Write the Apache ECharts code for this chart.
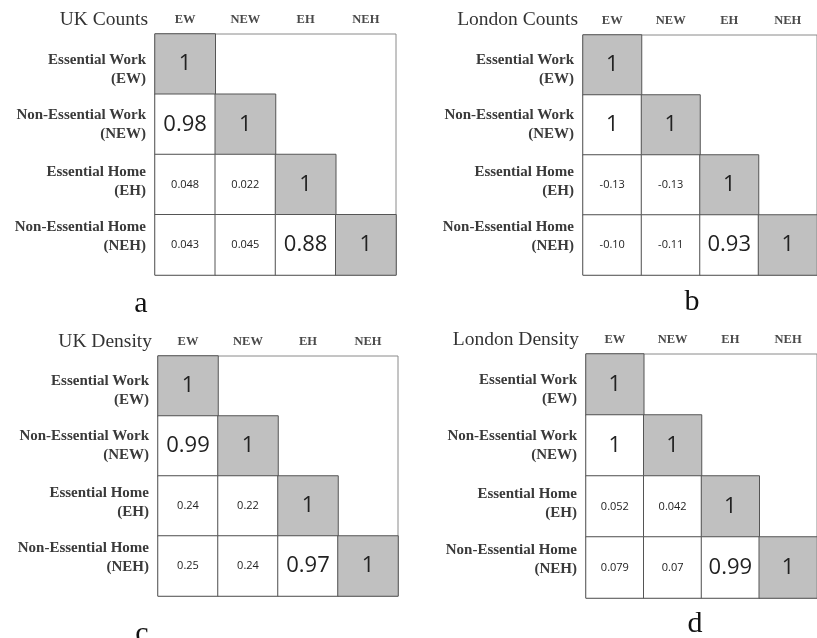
<!DOCTYPE html>
<html><head><meta charset="utf-8">
<script src="https://cdn.jsdelivr.net/npm/echarts@6/dist/echarts.min.js"></script>
<style>html,body{margin:0;padding:0;background:#fff}#c{width:817px;height:638px}</style>
</head><body><div id="c"></div>
<script>
const categories = ['EW', 'NEW', 'EH', 'NEH'];
const rowLabels = ['Essential Work\n(EW)', 'Non-Essential Work\n(NEW)', 'Essential Home\n(EH)', 'Non-Essential Home\n(NEH)'];
// lower-triangle correlation values (as printed), row by row
const ukCounts = [['1'], ['0.98', '1'], ['0.048', '0.022', '1'], ['0.043', '0.045', '0.88', '1']];
const londonCounts = [['1'], ['1', '1'], ['-0.13', '-0.13', '1'], ['-0.10', '-0.11', '0.93', '1']];
const ukDensity = [['1'], ['0.99', '1'], ['0.24', '0.22', '1'], ['0.25', '0.24', '0.97', '1']];
const londonDensity = [['1'], ['1', '1'], ['0.052', '0.042', '1'], ['0.079', '0.07', '0.99', '1']];
const panelTitles = ['UK Counts', 'London Counts', 'UK Density', 'London Density'];
const panelLetters = ['a', 'b', 'c', 'd'];
const panels = [ukCounts, londonCounts, ukDensity, londonDensity];

const layout = [
  {grid: {left: 155, top: 34, width: 241, height: 241}, title: [148, 20], letter: [141, 304]},
  {grid: {left: 583, top: 35, width: 240, height: 240}, title: [578, 20], letter: [692, 302]},
  {grid: {left: 158, top: 356, width: 240, height: 240}, title: [152, 342], letter: [142, 634]},
  {grid: {left: 586, top: 354, width: 244, height: 244}, title: [579, 340], letter: [695, 624]}
];
// small vertical nudges of the row labels (px, + = down) as in the original figure
const labelShift = [5, 0, -3, -8];

const LH = 19;
const baseStyle = {color: '#3a3a3a', fontFamily: 'Liberation Serif', fontWeight: 'bold', fontSize: 15, lineHeight: LH, align: 'right'};
const rich = {};
labelShift.forEach((d, k) => {
  rich['t' + k] = Object.assign({}, baseStyle, {lineHeight: LH + 2 * d});
  rich['b' + k] = Object.assign({}, baseStyle, {lineHeight: LH - 2 * d});
});

const chart = echarts.init(document.getElementById('c'), null, {renderer: 'canvas'});
const grids = [], xAxes = [], yAxes = [], series = [], graphics = [];
panels.forEach((p, i) => {
  const L = layout[i];
  grids.push(Object.assign({show: true, borderColor: '#8a8a8a', borderWidth: 1, backgroundColor: '#fff'}, L.grid));
  xAxes.push({
    type: 'category', data: categories, gridIndex: i, position: 'top',
    axisLine: {show: false}, axisTick: {show: false}, splitLine: {show: false},
    axisLabel: {margin: 8, color: '#4a4a4a', fontFamily: 'Liberation Serif', fontWeight: 'bold', fontSize: 12.5}
  });
  yAxes.push({
    type: 'category', data: rowLabels, gridIndex: i, inverse: true,
    axisLine: {show: false}, axisTick: {show: false}, splitLine: {show: false},
    axisLabel: Object.assign({}, baseStyle, {
      margin: 9, rich: rich,
      formatter: (val, idx) => {
        const parts = val.split('\n');
        return '{t' + idx + '|' + parts[0] + '}\n{b' + idx + '|' + parts[1] + '}';
      }
    })
  });
  const data = [];
  p.forEach((row, r) => row.forEach((s, c) => {
    const v = parseFloat(s);
    data.push({
      value: [c, r, v], text: s,
      itemStyle: {color: r === c ? '#c0c0c0' : '#ffffff'},
      label: {fontSize: Math.abs(v) >= 0.5 ? 22 : 11}
    });
  }));
  series.push({
    type: 'heatmap', xAxisIndex: i, yAxisIndex: i, data: data,
    itemStyle: {borderColor: '#555', borderWidth: 1},
    label: {show: true, color: '#222', fontFamily: 'Open Sans',
      formatter: (prm) => prm.data.text},
    emphasis: {disabled: true}
  });
  graphics.push({type: 'text', x: L.title[0], y: L.title[1],
    style: {text: panelTitles[i], font: '19.5px "Liberation Serif"', fill: '#333', align: 'right', verticalAlign: 'middle'}});
  graphics.push({type: 'text', x: L.letter[0], y: L.letter[1],
    style: {text: panelLetters[i], font: '30px "Liberation Serif"', fill: '#111', align: 'center', verticalAlign: 'middle'}});
});

chart.setOption({
  animation: false,
  grid: grids, xAxis: xAxes, yAxis: yAxes, series: series, graphic: graphics
});
</script></body></html>
